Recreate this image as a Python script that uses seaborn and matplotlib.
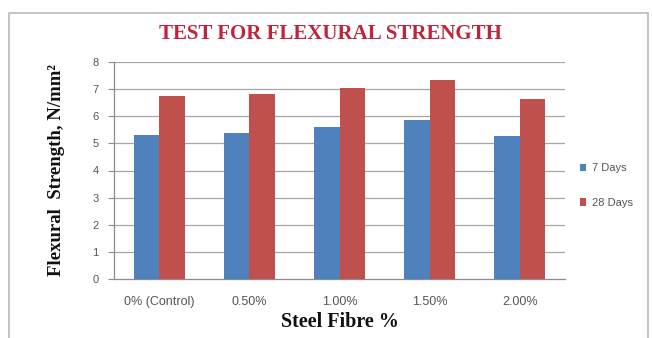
import matplotlib
matplotlib.use("Agg")
import matplotlib.pyplot as plt
import matplotlib.patches as mpatches
import seaborn as sns
import pandas as pd

# Flexural strength (N/mm^2) at 7 and 28 days for each steel fibre dosage
fibre_content = ["0% (Control)", "0.50%", "1.00%", "1.50%", "2.00%"]
days_7 = [5.32, 5.40, 5.60, 5.88, 5.29]
days_28 = [6.76, 6.83, 7.05, 7.34, 6.65]
series_names = ["7 Days", "28 Days"]
y_ticks = [0, 1, 2, 3, 4, 5, 6, 7, 8]

df = pd.DataFrame({
    "Fibre": fibre_content * 2,
    "Strength": days_7 + days_28,
    "Age": [series_names[0]] * len(days_7) + [series_names[1]] * len(days_28),
})

sns.set_theme(style="white")
plt.rcParams["font.family"] = ["Liberation Sans", "DejaVu Sans"]

fig = plt.figure(figsize=(6.52, 3.38), dpi=100)
fig.patch.set_facecolor("white")

# outer chart frame
frame = mpatches.Rectangle((9 / 652, -0.02), 639 / 652, (338 - 12.5) / 338 + 0.02,
                           transform=fig.transFigure, fill=False,
                           edgecolor="#b8b8b8", linewidth=1.2)
fig.add_artist(frame)

ax = fig.add_axes([114 / 652, (338 - 279) / 338, 451 / 652, 217 / 338])
sns.barplot(data=df, x="Fibre", y="Strength", hue="Age",
            palette=["#4F81BD", "#C0504D"], width=0.565, saturation=1,
            linewidth=0, ax=ax, legend=True, zorder=3)

ax.set_ylim(0, 8)
ax.set_yticks(y_ticks)
ax.set_xlim(-0.5, len(fibre_content) - 0.5)
for y in y_ticks[1:]:
    ax.axhline(y, color="#a6a6a6", linewidth=0.9, zorder=1)

for side in ["top", "right"]:
    ax.spines[side].set_visible(False)
ax.spines["left"].set_color("#8c8c8c")
ax.spines["bottom"].set_color("#8c8c8c")
ax.spines["left"].set_linewidth(0.9)
ax.spines["bottom"].set_linewidth(0.9)

ax.tick_params(axis="y", left=True, length=4, width=0.8, color="#8c8c8c",
               labelsize=8, labelcolor="#555555", pad=7)
ax.tick_params(axis="x", bottom=False, labelsize=9, labelcolor="#555555", pad=6)

ax.set_xlabel("Steel Fibre %", family="Liberation Serif", fontsize=14.5,
              fontweight="bold", color="#111111", labelpad=3)
ax.set_ylabel("Flexural  Strength, N/mm²", family="Liberation Serif",
              fontsize=13.5, fontweight="bold", color="#111111", labelpad=20)

fig.text(330 / 652, 1 - 34 / 338, "TEST FOR FLEXURAL STRENGTH",
         family="Liberation Serif", fontsize=15, fontweight="bold",
         color="#C0243C", ha="center", va="center")

leg = ax.legend(loc="center left", bbox_to_anchor=(1.01, 0.43), frameon=False,
                fontsize=8, handlelength=0.6, handleheight=0.6,
                labelspacing=2.2, handletextpad=0.5)
for t in leg.get_texts():
    t.set_color("#555555")

fig.savefig("out.png", dpi=100, facecolor="white")
